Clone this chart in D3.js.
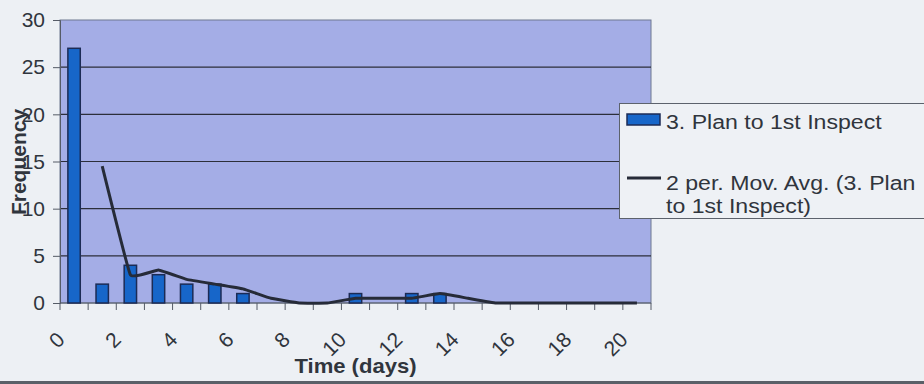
<!DOCTYPE html>
<html>
<head>
<meta charset="utf-8">
<script src="https://cdn.jsdelivr.net/npm/d3@7"></script>
<style>
  body { margin: 0; background: #edf0f4; }
  svg { display: block; font-family: 'Liberation Sans', Arial, sans-serif; }
</style>
</head>
<body>
<div id="chart"></div>
<script>
'use strict';
// Chart data
const categories = [0, 1, 2, 3, 4, 5, 6, 7, 8, 9, 10, 11, 12, 13, 14, 15, 16, 17, 18, 19, 20]
const frequency = [27, 2, 4, 3, 2, 2, 1, 0, 0, 0, 1, 0, 1, 1, 0, 0, 0, 0, 0, 0, 0]
const movingAvg = [null, 14.5, 3, 3.5, 2.5, 2, 1.5, 0.5, 0, 0, 0.5, 0.5, 0.5, 1, 0.5, 0, 0, 0, 0, 0, 0]
const yTicks = [0, 5, 10, 15, 20, 25, 30]
const xTickLabels = [0, 2, 4, 6, 8, 10, 12, 14, 16, 18, 20]
const seriesNames = ['3. Plan to 1st Inspect', ['2 per. Mov. Avg. (3. Plan', 'to 1st Inspect)']]

const W = 924, H = 384
const plot = { left: 60, right: 651, top: 20, bottom: 303 }
const textColor = '#30353d'

const svg = d3.select('#chart').append('svg')
    .attr('width', W)
    .attr('height', H)

// page background + bottom frame
svg.append('rect').attr('width', W).attr('height', H).attr('fill', '#edf0f4')
svg.append('line')
    .attr('x1', 0).attr('x2', W).attr('y1', H - 1.5).attr('y2', H - 1.5)
    .attr('stroke', '#5a6068').attr('stroke-width', 3)

const x = d3.scaleBand().domain(categories).range([plot.left, plot.right])
const y = d3.scaleLinear().domain([0, 30]).range([plot.bottom, plot.top])

// Plot area
svg.append('rect')
    .attr('x', plot.left)
    .attr('y', plot.top)
    .attr('width', plot.right - plot.left)
    .attr('height', plot.bottom - plot.top)
    .attr('fill', '#a4ade6')
    .attr('stroke', '#6f7890')
    .attr('stroke-width', 1)

// Horizontal gridlines
svg.append('g')
    .selectAll('line')
    .data(yTicks.filter(d => d > 0 && d < 30))
    .join('line')
    .attr('x1', plot.left)
    .attr('x2', plot.right)
    .attr('y1', d => y(d))
    .attr('y2', d => y(d))
    .attr('stroke', '#2c2f3a')
    .attr('stroke-width', 1.2)

// Y axis
const yAxis = svg.append('g')
    .attr('transform', `translate(${plot.left},0)`)
    .call(d3.axisLeft(y).tickValues(yTicks).tickSize(7).tickPadding(8))
yAxis.select('.domain').attr('stroke', '#555b66')
yAxis.selectAll('.tick line').attr('stroke', '#555b66')
yAxis.selectAll('.tick text')
    .attr('fill', textColor)
    .attr('font-size', 21)
    .attr('font-family', "'Liberation Sans', Arial, sans-serif")

// X axis: ticks sit on category boundaries
const xAxisG = svg.append('g')
svg.append('line')
    .attr('x1', plot.left).attr('x2', plot.right)
    .attr('y1', plot.bottom).attr('y2', plot.bottom)
    .attr('stroke', '#555b66')
xAxisG.selectAll('line')
    .data(categories.concat([null]))
    .join('line')
    .attr('x1', (d, i) => plot.left + i * x.step())
    .attr('x2', (d, i) => plot.left + i * x.step())
    .attr('y1', plot.bottom)
    .attr('y2', plot.bottom + 7)
    .attr('stroke', '#555b66')

xAxisG.selectAll('text')
    .data(xTickLabels)
    .join('text')
    .attr('text-anchor', 'end')
    .attr('fill', textColor)
    .attr('font-size', 21)
    .attr('transform', d => `translate(${x(d) + x.bandwidth() / 2 - 8},${plot.bottom + 38}) rotate(-45)`)
    .text(d => d)

// Bars
const barW = x.bandwidth() * 0.44
svg.append('g')
    .selectAll('rect')
    .data(categories.map((c, i) => ({ c, v: frequency[i] })).filter(d => d.v > 0))
    .join('rect')
    .attr('x', d => x(d.c) + (x.bandwidth() - barW) / 2)
    .attr('y', d => y(d.v))
    .attr('width', barW)
    .attr('height', d => y(0) - y(d.v))
    .attr('fill', '#1766c9')
    .attr('stroke', '#1c2b55')
    .attr('stroke-width', 1.5)

// Moving average line (lightly smoothed, like Excel)
const avgData = categories.map((c, i) => ({ c, v: movingAvg[i] })).filter(d => d.v !== null)
const avgLine = d3.line()
    .x(d => x(d.c) + x.bandwidth() / 2)
    .y(d => y(d.v))
    .curve(d3.curveCardinal.tension(0.75))
svg.append('path').datum(avgData)
    .attr('d', avgLine)
    .attr('fill', 'none')
    .attr('stroke', '#262b38')
    .attr('stroke-width', 3)

// Axis titles
svg.append('text')
    .attr('text-anchor', 'middle')
    .attr('font-weight', 'bold')
    .attr('font-size', 21)
    .attr('fill', textColor)
    .attr('transform', `translate(${(plot.left + plot.right) / 2},373) scale(1.05,1)`)
    .text('Time (days)')

svg.append('text')
    .attr('text-anchor', 'middle')
    .attr('font-weight', 'bold')
    .attr('font-size', 21)
    .attr('fill', textColor)
    .attr('transform', 'translate(26,162) rotate(-90)')
    .text('Frequency')

// Legend
const legend = svg.append('g')
legend.append('rect')
    .attr('x', 619.5).attr('y', 103.5)
    .attr('width', 320).attr('height', 115)
    .attr('fill', '#eef1f5')
    .attr('stroke', '#5c626c')
    .attr('stroke-width', 1)
legend.append('rect')
    .attr('x', 627).attr('y', 114)
    .attr('width', 33).attr('height', 11)
    .attr('fill', '#1766c9')
    .attr('stroke', '#1c2b55')
    .attr('stroke-width', 1.5)
legend.append('line')
    .attr('x1', 627).attr('x2', 661)
    .attr('y1', 178).attr('y2', 178)
    .attr('stroke', '#262b38')
    .attr('stroke-width', 3)

const legendLines = [
    { t: seriesNames[0], y: 129 },
    { t: seriesNames[1][0], y: 190 },
    { t: seriesNames[1][1], y: 213 }
]
legend.selectAll('text.lg')
    .data(legendLines)
    .join('text')
    .attr('class', 'lg')
    .attr('font-size', 21)
    .attr('fill', textColor)
    .attr('transform', d => `translate(666,${d.y}) scale(1.1,1)`)
    .text(d => d.t)
</script>
</body>
</html>
